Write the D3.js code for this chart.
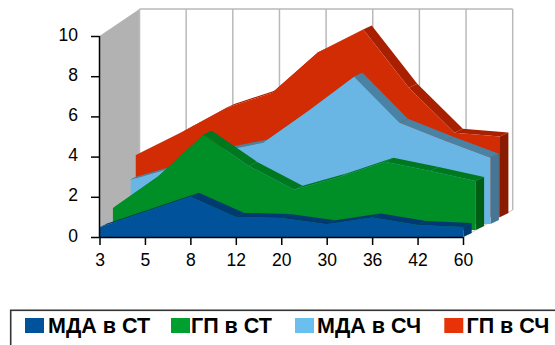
<!DOCTYPE html>
<html><head><meta charset="utf-8">
<style>html,body{margin:0;padding:0;background:#fff;overflow:hidden}svg{display:block}text{font-family:"Liberation Sans",Arial,sans-serif;fill:#000}</style>
<script src="https://cdn.jsdelivr.net/npm/d3@7"></script></head><body>
<svg id="c" width="555" height="345"></svg>
<script>
const categories = ["3","5","8","12","20","30","36","42","60"];
const yTicks = [0,2,4,6,8,10];
const seriesNames = ["МДА в СТ","ГП в СТ","МДА в СЧ","ГП в СЧ"];
const mdaST = [0.48,1.25,2.0,1.0,0.95,0.63,0.97,0.6,0.5];
const gpST  = [1.08,2.66,4.74,3.19,2.0,2.64,3.4,2.94,2.44];
const mdaSCh= [2.14,2.8,3.6,4.04,5.64,7.33,5.04,4.14,3.29];
const gpSCh = [3.07,4.2,5.44,6.18,8.18,9.33,6.43,4.19,4.0];
const values = [mdaST,gpST,mdaSCh,gpSCh];
const frontColors = ["#00529b","#008f27","#69b6e4","#d12c03"];
const topColors   = ["#003a70","#00781f","#4a82a4","#a82000"];
const sideColors  = ["#003a70","#005e14","#447696","#8a1a00"];
const legendColors= ["#00529b","#00a030","#6bbfee","#e83208"];
// per-series placement of the front face in the 3D box
const seriesX0 = [99.5,112.7,126.8,135.5];
const seriesX1 = [463.3,475.7,490.5,500];
const seriesClipLeft = [99.5,112.7,130.7,135.5];
const seriesBase = [237,230,224,217];
const depth = {dx:8.4,dy:-4};

const svg = d3.select("#c");
const y = d3.scaleLinear().domain([0,10]).range([237,36]);
const x = d3.scalePoint().domain(categories).range([99.5,463]);
const xBack = d3.scalePoint().domain(categories).range([139.5,512.7]);
const wallDy = -27;

// walls
const pts = a=>a.map(p=>p.join(",")).join(" ");
svg.append("polygon").attr("points",pts([[x.range()[0],y(0)],[xBack.range()[0],y(0)+wallDy],[xBack.range()[0],y(10)+wallDy],[x.range()[0],y(10)]])).attr("fill","#b2b2b2");
categories.forEach(c=>{
  svg.append("line").attr("x1",xBack(c)).attr("x2",xBack(c)).attr("y1",y(0)+wallDy).attr("y2",y(10)+wallDy).attr("stroke","#b9b9b9").attr("stroke-width",1.5);
});
svg.append("line").attr("x1",xBack.range()[0]).attr("x2",xBack.range()[1]).attr("y1",y(10)+wallDy).attr("y2",y(10)+wallDy).attr("stroke","#b9b9b9").attr("stroke-width",1.5);
svg.append("line").attr("x1",x.range()[1]).attr("x2",xBack.range()[1]).attr("y1",y(0)).attr("y2",y(0)+wallDy).attr("stroke","#c4c4c4").attr("stroke-width",1);

// series, back to front
const defs = svg.append("defs");
d3.range(3,-1,-1).forEach(s=>{
  defs.append("clipPath").attr("id","clip"+s).append("rect")
    .attr("x",seriesClipLeft[s]).attr("y",0).attr("width",555).attr("height",345);
  const g = svg.append("g").attr("clip-path",`url(#clip${s})`);
  const px = d3.scalePoint().domain(categories).range([seriesX0[s],seriesX1[s]]);
  const py = d3.scaleLinear().domain([0,10]).range([seriesBase[s],seriesBase[s]-(y(0)-y(10))]);
  const top = values[s].map((v,i)=>[px(categories[i]),py(v)]);
  // top ribbons
  d3.pairs(top).forEach(([a,b])=>{
    g.append("polygon").attr("points",pts([a,b,[b[0]+depth.dx,b[1]+depth.dy],[a[0]+depth.dx,a[1]+depth.dy]])).attr("fill",topColors[s]);
  });
  // right side
  const last = top[top.length-1];
  g.append("polygon").attr("points",pts([last,[last[0]+depth.dx,last[1]+depth.dy],[last[0]+depth.dx,py(0)+depth.dy],[last[0],py(0)]])).attr("fill",sideColors[s]);
  // front face
  const area = d3.area().x(d=>d[0]).y0(py(0)).y1(d=>d[1]);
  g.append("path").attr("d",area(top)).attr("fill",frontColors[s]);
});

// axes
const ax = svg.append("g").attr("transform","translate(0,237)").call(d3.axisBottom(x).tickSize(8).tickPadding(8.5));
const ay = svg.append("g").attr("transform","translate(99.5,0)").call(d3.axisLeft(y).tickValues(yTicks).tickFormat(d3.format("d")).tickSize(8.5).tickPadding(13));
[ax,ay].forEach(a=>{
  a.selectAll("text").style("font-size","17.5px").style("font-family",'"Liberation Sans",Arial,sans-serif').attr("fill","#000");
  a.selectAll("line,path").attr("stroke","#000").attr("stroke-width",1.5);
  a.select(".domain").attr("d",a===ax?"M99.5,0.5H463":"M0,36V237");
});
ay.selectAll("text").attr("transform","translate(0,-1.5)");

// legend
svg.append("rect").attr("x",10.7).attr("y",310.3).attr("width",560).attr("height",50).attr("fill","#fff").attr("stroke","#333").attr("stroke-width",1.6);
const legendSwatch=[25,171,295,444.3];
const legendText=[48,191,317,466.5];
seriesNames.forEach((n,i)=>{
  svg.append("rect").attr("x",legendSwatch[i]).attr("y",318).attr("width",19).attr("height",15).attr("fill",legendColors[i]);
  svg.append("text").attr("x",legendText[i]).attr("y",333.3).attr("font-size",21.5).attr("font-weight","bold").text(n);
});
</script></body></html>
